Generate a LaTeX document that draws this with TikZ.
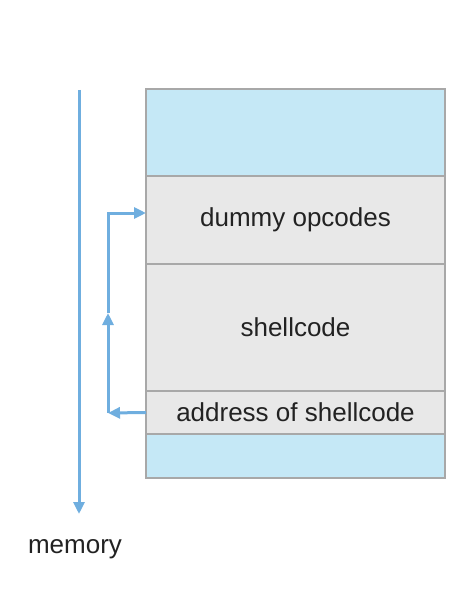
\documentclass[tikz,border=0pt]{standalone}
\usepackage{fontspec}
\setmainfont{Liberation Sans}
\usetikzlibrary{positioning}
\usetikzlibrary{arrows.meta}
\definecolor{cellblue}{RGB}{197,232,246}
\definecolor{cellgray}{RGB}{232,232,232}
\definecolor{cellline}{RGB}{168,168,168}
\definecolor{arrowblue}{RGB}{111,174,223}
\definecolor{labeltext}{RGB}{34,34,34}

\begin{document}
\begin{tikzpicture}[
x=1pt, y=-1pt,
node distance=0pt,
font=\fontsize{26}{30}\selectfont,
text=labeltext,
>={Triangle[length=12pt,width=11pt]},
bluecell/.style={rectangle, draw=cellline, fill=cellblue, line width=1.5pt, minimum width=299pt, outer sep=0pt, inner sep=0pt},
graycell/.style={rectangle, draw=cellline, fill=cellgray, line width=1.5pt, minimum width=299pt, outer sep=0pt, inner sep=0pt},
flow/.style={draw=arrowblue, line width=3pt},
]
\useasboundingbox (0,0) rectangle (475,607);
%Nodes
\node[bluecell, minimum height=87pt] (top)   at (295.5,132.5) {};
\node[graycell, minimum height=88pt] (dummy) [below=of top]   {dummy opcodes};
\node[graycell, minimum height=127pt] (shell) [below=of dummy] {shellcode};
\node[graycell, minimum height=43pt] (addr)  [below=of shell] {address of shellcode};
\node[bluecell, minimum height=44pt] (bottom) [below=of addr]  {};
\node (memlabel) at (75,549) {memory};

\coordinate (memtop) at (79,90);
\coordinate (memend) at (79,514);
\coordinate (corner) at (108,413);
\coordinate (mid)    at (108,313);

%Lines
\draw[flow, ->] (memtop) -- (memend);
\draw[flow, ->] (addr.west) -- (corner);
\draw[flow, ->] (corner) -- (mid);
\draw[flow, ->] (mid) |- ([yshift=7pt]dummy.west);
\end{tikzpicture}
\end{document}
